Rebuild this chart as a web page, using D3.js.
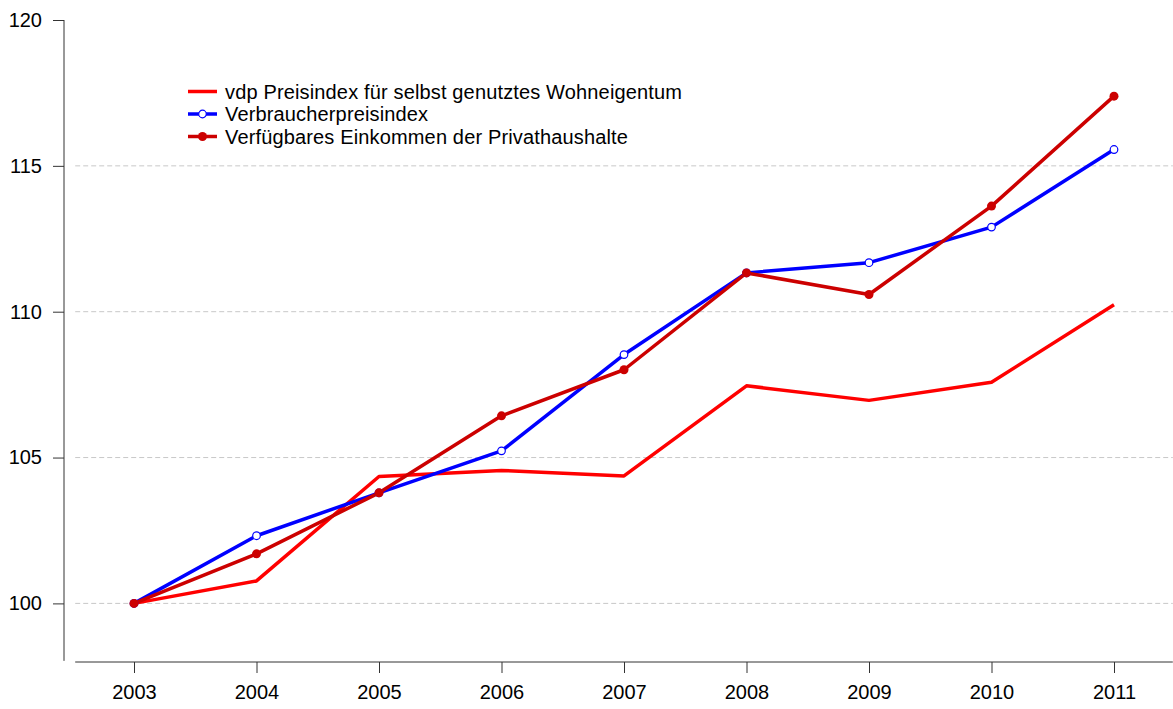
<!DOCTYPE html>
<html>
<head>
<meta charset="utf-8">
<script src="https://cdn.jsdelivr.net/npm/d3@7"></script>
<style>
  body { margin: 0; background: #fff; }
  svg { display: block; font-family: "Liberation Sans", Arial, sans-serif; }
</style>
</head>
<body>
<svg width="1173" height="709"></svg>
<script>
// chart data
const years = [2003, 2004, 2005, 2006, 2007, 2008, 2009, 2010, 2011]
const vdpIndex = [100, 100.77, 104.35, 104.56, 104.37, 107.46, 106.96, 107.58, 110.24]
const cpiIndex = [100, 102.32, 103.79, 105.23, 108.53, 111.33, 111.68, 112.90, 115.56]
const incomeIndex = [100, 101.70, 103.79, 106.43, 108.01, 111.33, 110.59, 113.62, 117.39]
const yTicks = [100, 105, 110, 115, 120]
const gridTicks = [100, 105, 110, 115]
const seriesNames = [
  'vdp Preisindex für selbst genutztes Wohneigentum',
  'Verbraucherpreisindex',
  'Verfügbares Einkommen der Privathaushalte'
]

const svg = d3.select('svg')

const x = d3.scaleLinear().domain([2003, 2011]).range([134, 1114])
const y = d3.scaleLinear().domain([100, 120]).range([603.4, 20])

// gridlines
svg.append('g')
  .selectAll('line')
  .data(gridTicks)
  .enter()
  .append('line')
  .attr('x1', x(2002.52))
  .attr('x2', x(2011.48))
  .attr('y1', d => y(d))
  .attr('y2', d => y(d))
  .attr('stroke', '#c8c8c8')
  .attr('stroke-width', 1)
  .attr('stroke-dasharray', '5,3')

// y axis
const yAxis = d3.axisLeft(y)
  .tickValues(yTicks)
  .tickSize(11)
  .tickSizeOuter(0)
  .tickPadding(11)
  .tickFormat(d3.format('d'))

const yG = svg.append('g')
  .attr('transform', 'translate(64,0)')
  .call(yAxis)
yG.select('.domain').remove()
yG.append('line')
  .attr('x1', 0).attr('x2', 0)
  .attr('y1', y(120)).attr('y2', y(98.03))
  .attr('stroke', '#333')
yG.selectAll('.tick line').attr('stroke', '#333')
yG.selectAll('.tick text')
  .attr('fill', '#000')
  .style('font-size', '20px')
  .style('font-family', '"Liberation Sans", Arial, sans-serif')

// x axis
const xAxis = d3.axisBottom(x)
  .tickValues(years)
  .tickSize(11)
  .tickSizeOuter(0)
  .tickPadding(12)
  .tickFormat(d3.format('d'))

const xG = svg.append('g')
  .attr('transform', 'translate(0,662)')
  .call(xAxis)
xG.select('.domain').remove()
xG.append('line')
  .attr('x1', x(2002.52)).attr('x2', x(2011.48))
  .attr('y1', 0).attr('y2', 0)
  .attr('stroke', '#333')
xG.selectAll('.tick line').attr('stroke', '#333')
xG.selectAll('.tick text')
  .attr('fill', '#000')
  .style('font-size', '20px')
  .style('font-family', '"Liberation Sans", Arial, sans-serif')

// lines
const line = d3.line()
  .x((d, i) => x(years[i]))
  .y(d => y(d))

svg.append('path')
  .datum(vdpIndex)
  .attr('d', line)
  .attr('fill', 'none')
  .attr('stroke', '#ff0000')
  .attr('stroke-width', 3.5)
  .attr('stroke-linejoin', 'round')

svg.append('path')
  .datum(cpiIndex)
  .attr('d', line)
  .attr('fill', 'none')
  .attr('stroke', '#0000ff')
  .attr('stroke-width', 3.5)
  .attr('stroke-linejoin', 'round')

svg.append('path')
  .datum(incomeIndex)
  .attr('d', line)
  .attr('fill', 'none')
  .attr('stroke', '#cc0000')
  .attr('stroke-width', 3.5)
  .attr('stroke-linejoin', 'round')

svg.append('g')
  .selectAll('circle')
  .data(cpiIndex)
  .enter()
  .append('circle')
  .attr('cx', (d, i) => x(years[i]))
  .attr('cy', d => y(d))
  .attr('r', 3.8)
  .attr('fill', '#fff')
  .attr('stroke', '#0000ff')
  .attr('stroke-width', 1.2)

svg.append('g')
  .selectAll('circle')
  .data(incomeIndex)
  .enter()
  .append('circle')
  .attr('cx', (d, i) => x(years[i]))
  .attr('cy', d => y(d))
  .attr('r', 4.5)
  .attr('fill', '#cc0000')

// legend
const legendColors = ['#ff0000', '#0000ff', '#cc0000']
const legend = svg.selectAll('.legend')
  .data(seriesNames)
  .enter()
  .append('g')
  .attr('class', 'legend')
  .attr('transform', (d, i) => `translate(188, ${91.5 + i * 22.5})`)

legend.append('line')
  .attr('x1', 0).attr('x2', 29)
  .attr('y1', 0).attr('y2', 0)
  .attr('stroke', (d, i) => legendColors[i])
  .attr('stroke-width', 3.5)

legend.filter((d, i) => i === 1).append('circle')
  .attr('cx', 14.5).attr('cy', 0).attr('r', 3.8)
  .attr('fill', '#fff').attr('stroke', '#0000ff').attr('stroke-width', 1.2)

legend.filter((d, i) => i === 2).append('circle')
  .attr('cx', 14.5).attr('cy', 0).attr('r', 4.5)
  .attr('fill', '#cc0000')

legend.append('text')
  .attr('x', 37)
  .attr('y', 7)
  .style('font-size', '20px')
  .style('letter-spacing', '0.15px')
  .attr('fill', '#000')
  .text(d => d)
</script>
</body>
</html>
